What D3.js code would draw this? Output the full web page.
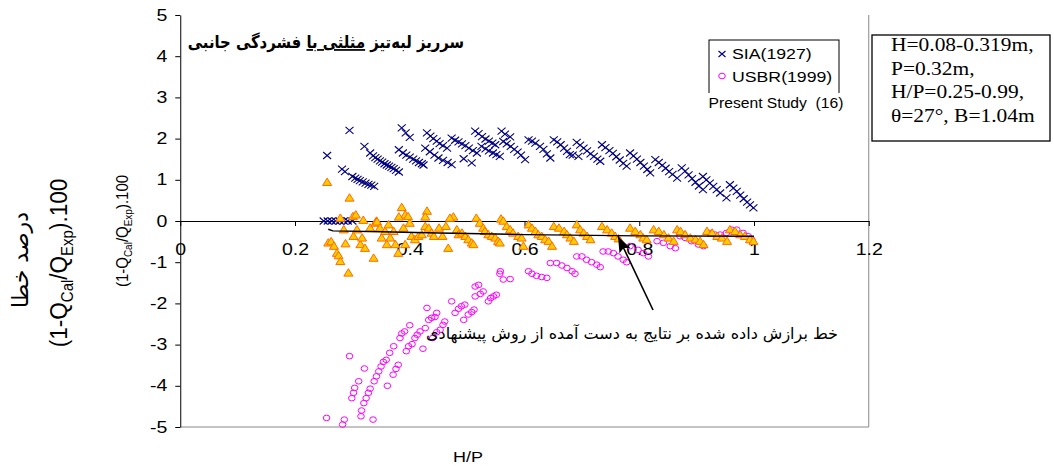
<!DOCTYPE html>
<html>
<head>
<meta charset="utf-8">
<script src="https://cdn.jsdelivr.net/npm/d3@7"></script>
<style>
body { margin: 0; background: #fff; }
</style>
</head>
<body>
<script>
var width = 1054,
    height = 466;

// axis ticks
var xTicks = [0, 0.2, 0.4, 0.6, 0.8, 1, 1.2];
var yTicks = [-5, -4, -3, -2, -1, 0, 1, 2, 3, 4, 5];

// SIA(1927) - [H/P, error %]
var siaPoints = [
  [0.250,0],[0.257,0],[0.264,0],[0.271,0],[0.278,0],[0.285,0],[0.292,0],[0.300,0],
  [0.256,1.59],[0.295,2.20],
  [0.282,1.26],[0.287,1.20],[0.300,1.08],[0.305,1.04],[0.309,1.01],[0.313,0.98],[0.318,0.95],[0.323,0.92],[0.328,0.89],[0.333,0.87],[0.338,0.84],
  [0.321,1.81],[0.331,1.65],[0.336,1.58],[0.340,1.54],[0.344,1.50],[0.348,1.46],[0.352,1.43],[0.356,1.39],[0.360,1.36],[0.364,1.33],[0.368,1.30],[0.372,1.27],[0.376,1.23],[0.381,1.19],
  [0.386,2.26],[0.393,2.14],[0.400,2.03],
  [0.381,1.73],[0.388,1.65],[0.394,1.60],[0.400,1.55],[0.406,1.50],[0.411,1.46],[0.416,1.42],[0.421,1.39],[0.424,1.36],
  [0.430,2.14],[0.436,2.06],[0.441,2.00],[0.447,1.94],[0.452,1.88],[0.458,1.83],[0.465,1.77],
  [0.427,1.77],[0.435,1.68],[0.443,1.60],[0.450,1.53],[0.458,1.47],[0.466,1.42],[0.473,1.37],
  [0.473,2.01],[0.479,1.96],[0.485,1.92],[0.491,1.87],[0.497,1.83],[0.503,1.77],[0.510,1.71],[0.517,1.65],
  [0.494,1.51],[0.508,1.41],
  [0.514,2.18],[0.520,2.12],[0.526,2.05],[0.532,1.99],[0.538,1.94],[0.544,1.89],[0.549,1.85],
  [0.525,1.81],[0.532,1.75],[0.538,1.70],[0.545,1.65],[0.551,1.61],[0.557,1.57],
  [0.560,2.18],[0.566,2.11],[0.575,2.04],
  [0.563,1.93],[0.569,1.87],[0.576,1.81],[0.582,1.74],[0.588,1.67],[0.594,1.60],[0.601,1.49],
  [0.607,1.97],[0.613,1.94],[0.619,1.89],[0.627,1.81],[0.633,1.74],[0.639,1.63],[0.645,1.53],
  [0.651,1.97],[0.657,1.92],[0.663,1.85],[0.669,1.77],[0.674,1.69],[0.679,1.61],
  [0.684,1.60],[0.694,1.57],
  [0.691,1.91],[0.697,1.84],[0.703,1.77],[0.709,1.70],[0.715,1.63],[0.721,1.57],[0.727,1.50],[0.732,1.45],
  [0.735,1.85],[0.741,1.78],[0.748,1.71],[0.754,1.64],[0.760,1.56],[0.766,1.48],[0.772,1.40],[0.778,1.33],
  [0.784,1.65],[0.790,1.58],[0.796,1.50],[0.802,1.42],[0.808,1.33],[0.814,1.25],[0.819,1.17],
  [0.828,1.49],[0.834,1.42],[0.840,1.35],[0.846,1.28],[0.852,1.20],[0.858,1.13],[0.866,1.04],
  [0.874,1.29],[0.880,1.21],[0.886,1.12],[0.892,1.03],[0.898,0.94],[0.904,0.85],[0.911,0.76],
  [0.911,1.08],[0.917,1.00],[0.923,0.92],[0.929,0.84],[0.935,0.76],[0.941,0.68],[0.952,0.56],
  [0.958,0.88],[0.964,0.80],[0.970,0.72],[0.976,0.63],[0.982,0.54],[0.988,0.46],[0.993,0.39],[0.999,0.32]
];

// USBR(1999)
var usbrPoints = [
  [0.255,-4.78],[0.283,-4.94],[0.286,-4.82],[0.295,-3.28],[0.315,-4.74],[0.316,-4.60],[0.336,-4.82],
  [0.299,-4.30],[0.302,-4.17],[0.304,-4.05],[0.311,-3.89],[0.321,-3.58],[0.320,-4.42],[0.324,-4.30],
  [0.328,-4.17],[0.331,-4.07],[0.338,-3.89],[0.342,-3.77],[0.346,-3.65],[0.350,-3.53],[0.354,-3.42],
  [0.359,-3.37],[0.361,-4.00],[0.365,-3.20],[0.372,-3.04],[0.371,-3.73],[0.376,-3.59],[0.380,-3.49],
  [0.383,-2.84],[0.386,-2.73],[0.391,-2.68],[0.400,-2.53],[0.394,-3.16],[0.398,-3.04],[0.404,-2.99],
  [0.409,-2.84],[0.413,-2.76],[0.418,-2.68],[0.423,-3.10],[0.427,-2.60],[0.433,-2.40],[0.438,-2.35],
  [0.444,-2.33],[0.430,-2.11],[0.447,-2.23],[0.440,-2.84],[0.447,-2.70],[0.453,-2.64],[0.458,-2.52],
  [0.461,-2.44],[0.473,-1.95],[0.479,-2.23],[0.485,-2.13],[0.490,-2.07],[0.496,-2.03],[0.494,-2.40],
  [0.502,-2.27],[0.508,-2.21],[0.512,-2.15],[0.514,-1.59],[0.520,-1.55],[0.514,-1.83],[0.523,-1.77],
  [0.528,-1.71],[0.537,-1.95],[0.541,-1.87],[0.546,-1.83],[0.551,-1.79],[0.558,-1.22],[0.557,-1.28],
  [0.563,-1.42],[0.575,-1.41],[0.607,-1.22],[0.613,-1.28],[0.621,-1.33],[0.630,-1.36],[0.639,-1.38],
  [0.645,-1.02],[0.656,-1.02],[0.665,-1.08],[0.674,-1.14],[0.683,-1.22],[0.688,-1.28],
  [0.691,-0.86],[0.700,-0.86],[0.708,-0.94],[0.717,-1.00],[0.726,-1.06],[0.732,-1.12],
  [0.737,-0.74],[0.746,-0.74],[0.755,-0.78],[0.763,-0.86],[0.772,-0.94],[0.778,-1.00],
  [0.784,-0.61],[0.798,-0.70],[0.807,-0.78],[0.816,-0.86],
  [0.831,-0.49],[0.842,-0.53],[0.854,-0.61],[0.863,-0.66],
  [0.871,-0.37],[0.880,-0.41],[0.891,-0.49],[0.903,-0.57],[0.912,-0.61],
  [0.923,-0.29],[0.932,-0.33],[0.941,-0.33],[0.952,-0.29],[0.961,-0.21],[0.970,-0.21],[0.981,-0.29],[0.990,-0.37],[0.996,-0.45]
];

// Present Study (16)
var presentPoints = [
  [0.256,0.94],[0.295,0.56],[0.386,0.33],[0.430,0.24],[0.392,0.15],[0.381,0.10],[0.427,0.10],[0.476,0.10],
  [0.470,0.07],[0.516,0.07],[0.559,0.05],[0.279,0.07],[0.301,0.11],[0.306,0.15],[0.319,0.02],[0.342,0.00],
  [0.258,-0.53],[0.263,-0.50],[0.268,-0.61],[0.273,-0.78],[0.276,-0.84],[0.279,-0.98],[0.285,-0.21],
  [0.288,-0.55],[0.293,-1.26],[0.302,-0.37],[0.308,-0.21],[0.314,-0.57],[0.317,-0.41],[0.322,-0.66],
  [0.331,-0.17],[0.337,-0.90],[0.340,-0.05],[0.343,-0.02],[0.348,-0.17],[0.351,-0.41],[0.357,-0.25],
  [0.360,-0.57],[0.363,-0.09],[0.366,-0.41],[0.372,-0.25],[0.375,-0.57],[0.380,-0.78],[0.389,-0.17],
  [0.392,-0.57],[0.397,0.11],[0.400,-0.05],[0.403,-0.37],[0.409,-0.45],[0.415,-0.37],[0.421,-0.33],
  [0.427,-0.13],[0.433,-0.17],[0.438,-0.29],[0.442,-0.37],[0.451,-0.17],[0.457,-0.37],[0.463,-0.13],
  [0.467,-0.66],[0.482,-0.21],[0.485,-0.33],[0.491,-0.29],[0.497,-0.37],[0.502,-0.45],[0.508,-0.53],
  [0.511,-0.57],[0.522,-0.05],[0.528,-0.17],[0.531,-0.25],[0.537,-0.33],[0.543,-0.37],[0.549,-0.41],
  [0.554,-0.49],[0.557,-0.53],[0.563,0.00],[0.569,-0.13],[0.575,-0.21],[0.580,-0.29],[0.589,-0.37],
  [0.595,-0.41],[0.598,-0.61],[0.607,-0.09],[0.613,-0.17],[0.619,-0.25],[0.624,-0.33],[0.630,-0.37],
  [0.636,-0.45],[0.642,-0.49],[0.648,-0.61],[0.651,-0.13],[0.660,-0.17],[0.669,-0.25],[0.674,-0.33],
  [0.680,-0.41],[0.686,-0.49],[0.691,-0.09],[0.697,-0.21],[0.703,-0.29],[0.709,-0.37],[0.715,-0.45],
  [0.735,-0.13],[0.744,-0.21],[0.752,-0.29],[0.758,-0.37],[0.764,-0.43],[0.784,-0.17],[0.793,-0.25],
  [0.802,-0.33],[0.807,-0.41],[0.813,-0.45],[0.825,-0.21],[0.834,-0.25],[0.843,-0.33],[0.851,-0.41],
  [0.860,-0.49],[0.866,-0.21],[0.872,-0.25],[0.880,-0.33],[0.889,-0.41],[0.898,-0.45],[0.906,-0.49],
  [0.912,-0.57],[0.918,-0.25],[0.927,-0.29],[0.936,-0.37],[0.944,-0.41],[0.953,-0.49],[0.958,-0.21],
  [0.967,-0.25],[0.976,-0.33],[0.984,-0.37],[0.993,-0.45],[0.999,-0.49]
];

// fitted line of the proposed method
var fitLine = [[0.258,-0.20],[0.266,-0.24],[0.35,-0.26],[0.45,-0.29],[0.6,-0.33],[0.8,-0.36],[1.0,-0.37]];

var legendNames = ["SIA(1927)", "USBR(1999)"];
var infoLines = ["H=0.08-0.319m,", "P=0.32m,", "H/P=0.25-0.99,", "\u03b8=27\u00b0, B=1.04m"];
var titleParts = ["سرریز لبه\u200cتیز ", "مثلثی با", " فشردگی جانبی"];
var noteText = "خط برازش داده شده بر نتایج به دست آمده از روش پیشنهادی";

var svg = d3.select("body").append("svg")
    .attr("width", width)
    .attr("height", height)
    .style("background", "#fff");

var x = d3.scaleLinear().domain([0, 1.2]).range([180.25, 868.75]);
var y = d3.scaleLinear().domain([-5, 5]).range([427, 15]);

var arial = "Arial, 'Liberation Sans', sans-serif";
var persian = "'DejaVu Sans', sans-serif";

// plot area border (right / bottom)
svg.append("path")
    .attr("d", "M" + x(0) + "," + y(-5) + "H" + x(1.2) + "V" + y(5))
    .attr("fill", "none")
    .attr("stroke", "#888");

// y axis
var yAxis = svg.append("g")
    .attr("transform", "translate(" + x(0) + ",0)")
    .call(d3.axisLeft(y).tickValues(yTicks).tickSize(5).tickSizeOuter(0).tickPadding(5.5)
        .tickFormat(function(d) { return String(d); }));
yAxis.selectAll("text")
    .attr("font-family", arial)
    .attr("font-size", 16)
    .attr("transform", "scale(1.22,1)");

// x axis crosses at 0
var xAxis = svg.append("g")
    .attr("transform", "translate(0," + y(0) + ")")
    .call(d3.axisBottom(x).tickValues(xTicks).tickSize(5).tickSizeOuter(0).tickPadding(18)
        .tickFormat(function(d) { return String(d); }));
xAxis.selectAll("text")
    .attr("font-family", arial)
    .attr("font-size", 16)
    .attr("transform", "scale(1.22,1)");

// SIA crosses
svg.append("g").selectAll("path")
    .data(siaPoints)
    .enter().append("path")
    .attr("transform", function(d) { return "translate(" + x(d[0]) + "," + y(d[1]) + ")"; })
    .attr("d", "M-4,-3.5L4,3.5M-4,3.5L4,-3.5")
    .attr("stroke", "#000080")
    .attr("stroke-width", 1.1);

// USBR circles
svg.append("g").selectAll("ellipse")
    .data(usbrPoints)
    .enter().append("ellipse")
    .attr("cx", function(d) { return x(d[0]); })
    .attr("cy", function(d) { return y(d[1]); })
    .attr("rx", 3.3)
    .attr("ry", 2.8)
    .attr("fill", "none")
    .attr("stroke", "#ff00ff")
    .attr("stroke-width", 1);

// present study triangles
svg.append("g").selectAll("path")
    .data(presentPoints)
    .enter().append("path")
    .attr("transform", function(d) { return "translate(" + x(d[0]) + "," + y(d[1]) + ")"; })
    .attr("d", "M0,-4.2L4.5,3.2L-4.5,3.2Z")
    .attr("fill", "#ffcc00")
    .attr("stroke", "#ff6a00")
    .attr("stroke-width", 1);

// fitted line
svg.append("path")
    .datum(fitLine)
    .attr("d", d3.line().x(function(d) { return x(d[0]); }).y(function(d) { return y(d[1]); }))
    .attr("fill", "none")
    .attr("stroke", "#000")
    .attr("stroke-width", 1.4);

// arrow pointing at the fitted line
svg.append("defs").append("marker")
    .attr("id", "head")
    .attr("markerUnits", "userSpaceOnUse")
    .attr("viewBox", "0 0 16 12")
    .attr("refX", 16).attr("refY", 6)
    .attr("markerWidth", 16).attr("markerHeight", 12)
    .attr("orient", "auto")
    .append("path").attr("d", "M0,0L16,6L0,12L3,6Z").attr("fill", "#000");

svg.append("line")
    .attr("x1", x(0.824)).attr("y1", y(-2.16))
    .attr("x2", x(0.763)).attr("y2", y(-0.37))
    .attr("stroke", "#000")
    .attr("stroke-width", 1.6)
    .attr("marker-end", "url(#head)");

svg.append("text")
    .attr("x", 632).attr("y", 339)
    .attr("text-anchor", "middle")
    .attr("direction", "rtl")
    .attr("font-family", persian)
    .attr("font-size", 16)
    .text(noteText);

// title
var title = svg.append("text")
    .attr("transform", "translate(326,48) scale(0.9,1.05)")
    .attr("text-anchor", "middle")
    .attr("direction", "rtl")
    .attr("font-family", persian)
    .attr("font-weight", "bold")
    .attr("font-size", 16.5);
titleParts.forEach(function(p, i) {
    title.append("tspan").text(p).style("text-decoration", i === 1 ? "underline" : "none");
});

// legend
var lg = svg.append("g");
lg.append("rect").attr("x", 709).attr("y", 40).attr("width", 130).attr("height", 54)
    .attr("fill", "#fff").attr("stroke", "#000");
lg.append("path").attr("transform", "translate(722,54)")
    .attr("d", "M-3.5,-3L3.5,3M-3.5,3L3.5,-3").attr("stroke", "#000080").attr("stroke-width", 1.1);
lg.append("ellipse").attr("cx", 722).attr("cy", 76).attr("rx", 3.3).attr("ry", 2.8)
    .attr("fill", "none").attr("stroke", "#ff00ff");
legendNames.forEach(function(n, i) {
    lg.append("text")
        .attr("transform", "translate(732," + (59 + i * 23) + ") scale(1.18,1)")
        .attr("font-family", arial)
        .attr("font-size", 15)
        .text(n);
});
lg.append("rect").attr("x", 704).attr("y", 93).attr("width", 146).attr("height", 18).attr("fill", "#fff");
lg.append("text")
    .attr("transform", "translate(776,108) scale(1.08,1)")
    .attr("text-anchor", "middle")
    .attr("font-family", arial)
    .attr("font-size", 14.5)
    .text("Present Study \u00a0(16)");

// info box
svg.append("rect").attr("x", 872).attr("y", 35).attr("width", 178).attr("height", 106)
    .attr("fill", "#fff").attr("stroke", "#000").attr("stroke-width", 1.3);
infoLines.forEach(function(t, i) {
    svg.append("text")
        .attr("transform", "translate(891," + (51 + i * 23.5) + ") scale(1.16,1)")
        .attr("font-family", "'Times New Roman', 'Liberation Serif', serif")
        .attr("font-size", 18.5)
        .text(t);
});

// axis titles
svg.append("text")
    .attr("transform", "translate(468,462) scale(1.2,1)")
    .attr("text-anchor", "middle")
    .attr("font-family", arial)
    .attr("font-size", 15)
    .text("H/P");

svg.append("text")
    .attr("transform", "translate(28,260) rotate(-90)")
    .attr("text-anchor", "middle")
    .attr("direction", "rtl")
    .attr("font-family", persian)
    .attr("font-size", 22)
    .text("درصد خطا");

function qLabel(cx, cy, size, sub) {
    var t = svg.append("text")
        .attr("transform", "translate(" + cx + "," + cy + ") scale(1.1,1) rotate(-90)")
        .attr("text-anchor", "middle")
        .attr("font-family", arial)
        .attr("font-size", size);
    t.append("tspan").text("(1-Q");
    t.append("tspan").attr("font-size", sub).attr("dy", size * 0.25).text("Cal");
    t.append("tspan").attr("dy", -size * 0.25).text("/Q");
    t.append("tspan").attr("font-size", sub).attr("dy", size * 0.25).text("Exp");
    t.append("tspan").attr("dy", -size * 0.25).text(").100");
}
qLabel(67, 263, 22.5, 15);
qLabel(128, 231, 15, 10);
</script>
</body>
</html>
